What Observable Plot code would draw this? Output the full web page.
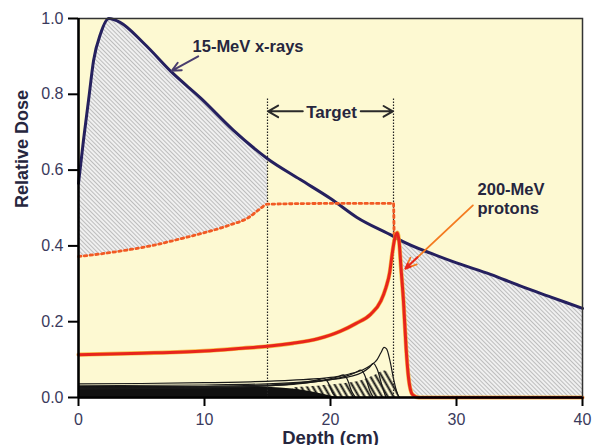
<!DOCTYPE html>
<html><head><meta charset="utf-8">
<script src="https://cdn.jsdelivr.net/npm/d3@7"></script>
<script src="https://cdn.jsdelivr.net/npm/@observablehq/plot@0.6"></script>
<style>
body{margin:0;background:#fff;}
#defs{position:absolute;left:0;top:0;width:0;height:0;}
</style>
</head><body>
<svg id="defs" width="0" height="0"><defs>
<pattern id="hatch" patternUnits="userSpaceOnUse" width="3" height="3" patternTransform="rotate(-45)">
 <rect width="3" height="3" fill="#f0f0f0"/>
 <line x1="1.5" y1="0" x2="1.5" y2="3" stroke="#b0b0b0" stroke-width="0.8"/>
</pattern>
<pattern id="stripes" patternUnits="userSpaceOnUse" width="5" height="5" patternTransform="rotate(-30)">
 <line x1="2.5" y1="0" x2="2.5" y2="5" stroke="#111" stroke-width="2"/>
</pattern>
</defs></svg>
<div id="chart"></div>
<script>
// ---- data ----
const xTicks = [0, 10, 20, 30, 40];
const yTicks = [0, 0.2, 0.4, 0.6, 0.8, 1.0];

// 15-MeV x-rays depth dose [depth cm, relative dose]
const xray = [[0,0.565],[0.4,0.68],[0.8,0.785],[1.2,0.89],[1.75,0.96],[2.4,1.0],[3.3,0.99],[5.2,0.934],[7.5,0.855],[9.7,0.79],[12.3,0.705],[15,0.63],[17.6,0.575],[20,0.525],[22.1,0.475],[25,0.425],[25.6,0.414],[28,0.38],[30,0.355],[32.7,0.325],[35,0.295],[37.5,0.265],[40,0.235]];

// 200-MeV protons, pristine Bragg peak
const proton = [[0,0.113],[5,0.117],[10,0.123],[13,0.13],[15,0.135],[17,0.143],[19,0.155],[20.8,0.175],[22,0.195],[23.2,0.22],[24,0.255],[24.4,0.29],[24.7,0.33],[24.9,0.38],[25.1,0.42],[25.3,0.435],[25.45,0.41],[25.6,0.34],[25.8,0.25],[26,0.13],[26.2,0.05],[26.5,0.008],[27,0],[40,0]];

// spread-out Bragg peak (dotted)
const sobp = [[0,0.372],[2,0.38],[4,0.39],[6,0.402],[8,0.418],[10,0.435],[12,0.455],[13.5,0.475],[14.3,0.495],[15,0.51],[20,0.512],[25,0.512],[25.05,0.43]];

// component (weighted) Bragg peaks
const comp1 = [[0,0.036],[5,0.037],[10,0.039],[14,0.042],[17,0.046],[19,0.05],[20.5,0.055],[21.5,0.062],[22.5,0.072],[23.2,0.085],[23.7,0.1],[24.0,0.118],[24.25,0.132],[24.45,0.128],[24.7,0.1],[25.0,0.05],[25.3,0.01],[25.5,0]];
const comp2 = [[0,0.031],[10,0.033],[15,0.036],[18,0.041],[20,0.047],[21.5,0.055],[22.5,0.066],[23.1,0.08],[23.4,0.09],[23.7,0.075],[24.1,0.03],[24.4,0]];
const comp3 = [[0,0.027],[10,0.029],[15,0.033],[18,0.039],[20,0.047],[21.3,0.057],[22,0.066],[22.4,0.072],[22.7,0.06],[23.1,0.02],[23.4,0]];
const comp4 = [[0,0.024],[10,0.026],[15,0.031],[18,0.038],[19.8,0.048],[20.7,0.056],[21,0.06],[21.3,0.05],[21.7,0.015],[22,0]];
const comp5 = [[0,0.022],[10,0.025],[14,0.029],[17,0.036],[18.8,0.045],[19.5,0.05],[19.8,0.04],[20.2,0.01],[20.5,0]];
const stripeTop = [[17,0.026],[19,0.03],[21,0.036],[22.5,0.045],[23.5,0.058],[24.3,0.07],[24.8,0.06],[25.2,0.03],[25.5,0]];
const blackBand = [[0,0.029],[14,0.028],[16,0.025],[18,0.018],[19.5,0.008],[20.5,0]];

// target region and annotations
const targetEdges = [15, 25];
const targetTop = 0.79;
const startLabels = [
  {x: 9.05, y: 0.925, text: "15-MeV x-rays"},
  {x: 31.67, y: 0.549, text: "200-MeV"},
  {x: 31.67, y: 0.499, text: "protons"}
];
const middleLabels = [{x: 20.08, y: 0.753, text: "Target"}];
const xrayArrow = [{x1: 9.5, y1: 0.9, x2: 7.4, y2: 0.862}];
const targetArrows = [{x1: 17.8, y1: 0.755, x2: 15.05, y2: 0.755}, {x1: 22.4, y1: 0.755, x2: 24.95, y2: 0.755}];
const protonArrow = [{x1: 31.3, y1: 0.507, x2: 25.95, y2: 0.34}];
const protonArrowTip = [{x1: 26.9, y1: 0.37, x2: 25.95, y2: 0.34}];

// ---- helpers ----
function at(s, x) {
  if (x <= s[0][0]) return s[0][1];
  for (let i = 0; i < s.length - 1; i++) {
    const [x0, y0] = s[i], [x1, y1] = s[i + 1];
    if (x >= x0 && x <= x1) return x1 === x0 ? y1 : y0 + (y1 - y0) * (x - x0) / (x1 - x0);
  }
  return s[s.length - 1][1];
}
function band(lo, hi, a, b) {
  const xs = Array.from(new Set([...lo.map(d => d[0]), ...hi.map(d => d[0]), a, b]))
    .filter(x => x >= a && x <= b).sort((p, q) => p - q);
  return xs.map(x => ({x, y1: at(lo, x), y2: at(hi, x)}));
}
const region1 = band(sobp, xray, 0, 15);
const region2 = band(proton, xray, 25.45, 40);
const px = d => d[0], py = d => d[1];
const tickColor = "#3a3a5c";
const textColor = "#26263e";
const font = "Arial, 'Liberation Sans', sans-serif";

const chart = Plot.plot({
  width: 596, height: 445,
  marginLeft: 78, marginRight: 14, marginTop: 18, marginBottom: 48,
  style: {background: "white", fontFamily: font, fontSize: "16px", overflow: "visible"},
  x: {domain: [0, 40], axis: null},
  y: {domain: [0, 1], axis: null},
  marks: [
    Plot.frame({fill: "#fdf9d2", stroke: null}),
    Plot.areaY(region1, {x: "x", y1: "y1", y2: "y2", fill: "url(#hatch)", curve: "monotone-x"}),
    Plot.areaY(region2, {x: "x", y1: "y1", y2: "y2", fill: "url(#hatch)", curve: "monotone-x"}),
    Plot.areaY(stripeTop, {x: px, y: py, fill: "url(#stripes)", curve: "monotone-x"}),
    Plot.areaY(blackBand, {x: px, y: py, fill: "#111", curve: "monotone-x"}),
    ...[comp5, comp4, comp3, comp2, comp1].map(c => Plot.line(c, {x: px, y: py, stroke: "#1a1a1a", strokeWidth: 1.2, curve: "monotone-x"})),
    Plot.ruleX(targetEdges, {y1: 0, y2: targetTop, stroke: "#222", strokeWidth: 1.2, strokeDasharray: "1.5,1.5"}),
    Plot.line(xray, {x: px, y: py, stroke: "#25205e", strokeWidth: 3, curve: "monotone-x"}),
    Plot.line(sobp, {x: px, y: py, stroke: "#f15a24", strokeWidth: 2.8, strokeDasharray: "2.5,3.3", curve: "monotone-x"}),
    Plot.line(proton, {x: px, y: py, stroke: "#f4a81c", strokeWidth: 4.2, strokeOpacity: 0.75, curve: "monotone-x"}),
    Plot.line(proton, {x: px, y: py, stroke: "#e8251c", strokeWidth: 3, curve: "monotone-x"}),
    Plot.arrow(xrayArrow, {x1: "x1", y1: "y1", x2: "x2", y2: "y2", stroke: "#4a3d6e", strokeWidth: 2, headLength: 10, headAngle: 50}),
    Plot.arrow(targetArrows, {x1: "x1", y1: "y1", x2: "x2", y2: "y2", stroke: "#2a2a2a", strokeWidth: 2, headLength: 9, headAngle: 60}),
    Plot.arrow(protonArrow, {x1: "x1", y1: "y1", x2: "x2", y2: "y2", stroke: "#f47b20", strokeWidth: 1.8, headLength: 10, headAngle: 45}),
    Plot.arrow(protonArrowTip, {x1: "x1", y1: "y1", x2: "x2", y2: "y2", stroke: "#e8251c", strokeWidth: 2, headLength: 10, headAngle: 45}),
    Plot.text(startLabels, {x: "x", y: "y", text: "text", textAnchor: "start", fontSize: 16.5, fontWeight: "bold", fill: textColor}),
    Plot.text(middleLabels, {x: "x", y: "y", text: "text", textAnchor: "middle", fontSize: 17, fontWeight: "bold", fill: textColor}),
    Plot.frame({stroke: "#333", strokeWidth: 1.5}),
    Plot.ruleX([0], {stroke: "#000", strokeWidth: 2.5}),
    Plot.ruleY([0], {stroke: "#000", strokeWidth: 2.5}),
    Plot.axisX({ticks: xTicks, tickSize: 9, tickPadding: 7, stroke: "#000", strokeWidth: 2, fill: tickColor, fontSize: 16, label: null}),
    Plot.axisY({ticks: yTicks, tickSize: 10, tickPadding: 5, tickFormat: d3.format(".1f"), stroke: "#000", strokeWidth: 2, fill: tickColor, fontSize: 16, label: null}),
    Plot.text(["Relative Dose"], {frameAnchor: "left", dx: -56, rotate: -90, fontSize: 18, fontWeight: "bold", fill: textColor}),
    Plot.text(["Depth (cm)"], {frameAnchor: "bottom", dy: 46, fontSize: 18.5, fontWeight: "bold", fill: textColor})
  ]
});
document.getElementById("chart").appendChild(chart);
</script>
</body></html>
